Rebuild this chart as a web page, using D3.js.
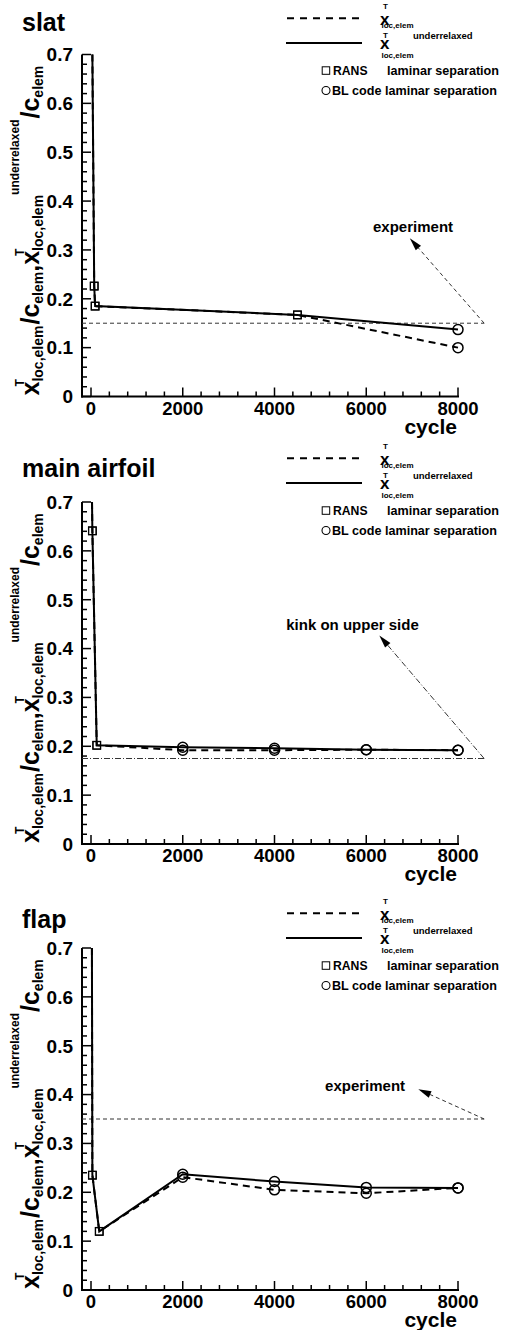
<!DOCTYPE html>
<html><head><meta charset="utf-8">
<script src="https://cdn.jsdelivr.net/npm/d3@7"></script>
<style>
body{margin:0;background:#fff}
svg{display:block}
text{font-family:"Liberation Sans",Arial,Helvetica,sans-serif;font-weight:bold;fill:#000}
</style>
</head><body>
<svg id="c" width="507" height="1330"></svg>
<script>
// ---------------- data ----------------
const panelNames = ["slat", "main airfoil", "flap"];

const slatCycle      = [30, 70, 90, 4500, 8000];
const slatValue      = [0.70, 0.226, 0.185, 0.167, 0.100];   // x_loc,elem (dashed)
const slatValueUnder = [0.70, 0.226, 0.185, 0.167, 0.137];   // underrelaxed (solid)
const slatMarker     = ["none", "square", "square", "square", "circle"];

const mainCycle      = [22, 30, 125, 2000, 4000, 6000, 8000];
const mainValue      = [0.70, 0.641, 0.202, 0.192, 0.192, 0.193, 0.192];
const mainValueUnder = [0.70, 0.641, 0.202, 0.198, 0.196, 0.193, 0.192];
const mainMarker     = ["none", "square", "square", "circle", "circle", "circle", "circle"];

const flapCycle      = [20, 30, 180, 2000, 4000, 6000, 8000];
const flapValue      = [0.70, 0.235, 0.120, 0.231, 0.205, 0.198, 0.209];
const flapValueUnder = [0.70, 0.235, 0.120, 0.237, 0.222, 0.210, 0.209];
const flapMarker     = ["none", "square", "square", "circle", "circle", "circle", "circle"];

const refLabels      = ["experiment", "kink on upper side", "experiment"];
const refValues      = [0.15, 0.175, 0.35];
const refEndCycle    = [8570, 8570, 8570];
const arrowTipCycle  = [6950, 6285, 7135];
const arrowTipValue  = [0.324, 0.427, 0.411];
const refLabelCycle  = [7020, 5700, 5975];
const refLabelValue  = [0.337, 0.438, 0.407];

const xTicks = [0, 2000, 4000, 6000, 8000];
const yTicks = [0, 0.1, 0.2, 0.3, 0.4, 0.5, 0.6, 0.7];
const xTickLabels = ["0", "2000", "4000", "6000", "8000"];
const yTickLabels = ["0", "0.1", "0.2", "0.3", "0.4", "0.5", "0.6", "0.7"];
const xTitle = "cycle";
const legendMarkerTexts = [["RANS", "laminar separation"], ["BL code laminar separation"]];

// ---------------- layout ----------------
const panelBottom = [396.5, 844, 1290];
const plotH = 342;
const titleBase = [31, 477, 928];
const legendOff = [0, 440, 895];
const refDash = ["4,3", "6,2,1,2", "4,3"];

const seriesByPanel = [
  {cycle: slatCycle, v: slatValue, vu: slatValueUnder, m: slatMarker},
  {cycle: mainCycle, v: mainValue, vu: mainValueUnder, m: mainMarker},
  {cycle: flapCycle, v: flapValue, vu: flapValueUnder, m: flapMarker}
];

const svg = d3.select("#c");
const x = d3.scaleLinear().domain([0, 8000]).range([91, 458]);
const xAxisStart = 82;

panelNames.forEach((name, p) => {
  const yb = panelBottom[p];
  const y = d3.scaleLinear().domain([0, 0.7]).range([yb, yb - plotH]);
  const g = svg.append("g");

  // title
  g.append("text").attr("x", 22).attr("y", titleBase[p]).attr("font-size", 25).text(name);

  // axes lines
  g.append("line").attr("x1", xAxisStart).attr("x2", xAxisStart).attr("y1", y(0) + 1).attr("y2", y(0.7))
    .attr("stroke", "#000").attr("stroke-width", 2);
  g.append("line").attr("x1", xAxisStart - 1).attr("x2", x(8000) + 1).attr("y1", y(0)).attr("y2", y(0))
    .attr("stroke", "#000").attr("stroke-width", 2);

  // y ticks
  const yMinor = d3.range(0, 0.7001, 0.02);
  g.selectAll(null).data(yMinor).enter().append("line")
    .attr("x1", xAxisStart).attr("x2", d => xAxisStart + (Math.abs(d * 10 - Math.round(d * 10)) < 1e-6 ? 9 : 5))
    .attr("y1", d => y(d)).attr("y2", d => y(d)).attr("stroke", "#000").attr("stroke-width", 1.5);
  g.selectAll(null).data(yTicks).enter().append("text")
    .attr("x", 73).attr("y", d => y(d)).attr("dy", "0.36em").attr("text-anchor", "end")
    .attr("font-size", 19).text((d, i) => yTickLabels[i]);

  // x ticks
  const xMinor = d3.range(0, 8001, 400);
  g.selectAll(null).data(xMinor).enter().append("line")
    .attr("x1", d => x(d)).attr("x2", d => x(d)).attr("y1", y(0))
    .attr("y2", d => y(0) - (d % 2000 === 0 ? 9 : 5)).attr("stroke", "#000").attr("stroke-width", 1.5);
  g.selectAll(null).data(xTicks).enter().append("text")
    .attr("x", d => x(d)).attr("y", y(0) + 18).attr("text-anchor", "middle")
    .attr("font-size", 18.5).text((d, i) => xTickLabels[i]);
  g.append("text").attr("x", 457).attr("y", y(0) + 37).attr("text-anchor", "end")
    .attr("font-size", 21).text(xTitle);

  // reference line + arrow
  const ry = y(refValues[p]);
  const ex = x(refEndCycle[p]);
  g.append("line").attr("x1", xAxisStart).attr("x2", ex).attr("y1", ry).attr("y2", ry)
    .attr("stroke", "#333").attr("stroke-width", 1).attr("stroke-dasharray", refDash[p]);
  const tx = x(arrowTipCycle[p]), ty = y(arrowTipValue[p]);
  const ang = Math.atan2(ty - ry, tx - ex);
  const L = 13, Wd = 3.5;
  const bx = tx - L * Math.cos(ang), by = ty - L * Math.sin(ang);
  g.append("line").attr("x1", ex).attr("y1", ry).attr("x2", bx).attr("y2", by)
    .attr("stroke", "#333").attr("stroke-width", 1).attr("stroke-dasharray", refDash[p]);
  g.append("path").attr("d", `M${tx},${ty}L${bx + Wd * Math.sin(ang)},${by - Wd * Math.cos(ang)}L${bx - Wd * Math.sin(ang)},${by + Wd * Math.cos(ang)}Z`)
    .attr("fill", "#000");
  g.append("text").attr("x", x(refLabelCycle[p])).attr("y", y(refLabelValue[p]))
    .attr("text-anchor", "middle").attr("font-size", 15).text(refLabels[p]);

  // series
  const s = seriesByPanel[p];
  const ptsD = s.cycle.map((c, i) => [c, s.v[i], s.m[i]]);
  const ptsS = s.cycle.map((c, i) => [c, s.vu[i], s.m[i]]);
  const line = d3.line().x(d => x(d[0])).y(d => y(d[1]));
  g.append("path").attr("d", line(ptsD)).attr("fill", "none").attr("stroke", "#000")
    .attr("stroke-width", 2).attr("stroke-dasharray", "7,5");
  g.append("path").attr("d", line(ptsS)).attr("fill", "none").attr("stroke", "#000")
    .attr("stroke-width", 2);
  [ptsD, ptsS].forEach(pts => {
    g.selectAll(null).data(pts.filter(d => d[2] === "square")).enter().append("rect")
      .attr("x", d => x(d[0]) - 3.8).attr("y", d => y(d[1]) - 3.8).attr("width", 7.6).attr("height", 7.6)
      .attr("fill", "none").attr("stroke", "#000").attr("stroke-width", 1.2);
    g.selectAll(null).data(pts.filter(d => d[2] === "circle")).enter().append("circle")
      .attr("cx", d => x(d[0])).attr("cy", d => y(d[1])).attr("r", 5)
      .attr("fill", "none").attr("stroke", "#000").attr("stroke-width", 1.5);
  });

  // legend
  const lo = legendOff[p];
  const lg = g.append("g").attr("transform", `translate(0,${lo})`);
  lg.append("line").attr("x1", 287).attr("x2", 360).attr("y1", 18.3).attr("y2", 18.3)
    .attr("stroke", "#000").attr("stroke-width", 2).attr("stroke-dasharray", "7,6");
  lg.append("line").attr("x1", 286).attr("x2", 362).attr("y1", 43).attr("y2", 43)
    .attr("stroke", "#000").attr("stroke-width", 2);
  const r1 = lg.append("text");
  r1.append("tspan").attr("x", 383).attr("y", 8.5).attr("font-size", 8).text("T");
  r1.append("tspan").attr("x", 380).attr("y", 24.5).attr("font-size", 17).text("x");
  r1.append("tspan").attr("x", 381.5).attr("y", 28).attr("font-size", 8).text("loc,elem");
  const r2 = lg.append("text");
  r2.append("tspan").attr("x", 383).attr("y", 37.8).attr("font-size", 8).text("T");
  r2.append("tspan").attr("x", 413).attr("y", 39).attr("font-size", 9.5).text("underrelaxed");
  r2.append("tspan").attr("x", 380).attr("y", 48.5).attr("font-size", 17).text("x");
  r2.append("tspan").attr("x", 381.5).attr("y", 57.5).attr("font-size", 8).text("loc,elem");
  lg.append("rect").attr("x", 322.2).attr("y", 66.8).attr("width", 7.5).attr("height", 7.5)
    .attr("fill", "none").attr("stroke", "#000").attr("stroke-width", 1);
  lg.append("text").attr("x", 333).attr("y", 74.5).attr("font-size", 12.2).text(legendMarkerTexts[0][0]);
  lg.append("text").attr("x", 387).attr("y", 74.5).attr("font-size", 12.6).text(legendMarkerTexts[0][1]);
  lg.append("circle").attr("cx", 326).attr("cy", 90.5).attr("r", 4)
    .attr("fill", "none").attr("stroke", "#000").attr("stroke-width", 1.1);
  lg.append("text").attr("x", 332).attr("y", 94.5).attr("font-size", 12.6).text(legendMarkerTexts[1][0]);

  // rotated y label
  const yl = g.append("g").attr("transform", `translate(39,${y(0) - 1}) rotate(-90)`);
  let u = 0;
  const piece = (str, size, v, adv = true, at = null) => {
    const t = yl.append("text").attr("x", at === null ? u : at).attr("y", v).attr("font-size", size).text(str);
    const w = t.node().getComputedTextLength();
    if (adv) u = (at === null ? u : at) + w;
    return w;
  };
  const xStack = (withUnder) => {
    piece("x", 25, 0);
    const st = u;
    piece("T", 12, -15, false, st - 5);
    piece("loc,elem", 14, 4, true, st);
    if (withUnder) piece("underrelaxed", 12, -20);
    u += 1;
    piece("/", 25, 0);
    piece("c", 25, 0);
    piece("elem", 14, 4);
  };
  xStack(false);
  piece(", ", 25, 0);
  xStack(true);
});
</script>
</body></html>
